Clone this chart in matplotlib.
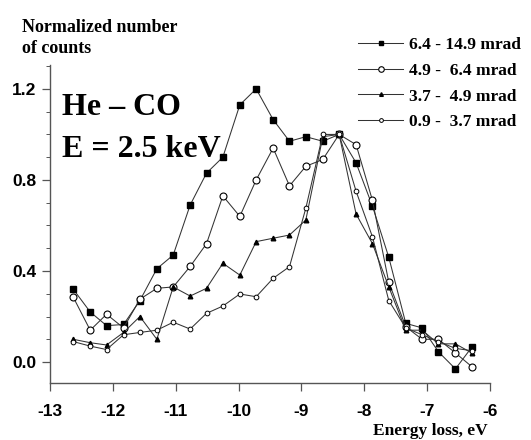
import matplotlib
matplotlib.use('Agg')
import matplotlib.pyplot as plt
from matplotlib.ticker import MultipleLocator

# Energy loss grid (eV)
energy = [-12.63, -12.36, -12.10, -11.83, -11.57, -11.30, -11.04, -10.77, -10.51,
          -10.25, -9.98, -9.72, -9.45, -9.19, -8.93, -8.66, -8.40, -8.13, -7.87,
          -7.61, -7.34, -7.08, -6.82, -6.55, -6.29]

# Normalized number of counts for each angular range
s_64_149 = [0.32, 0.22, 0.16, 0.165, 0.27, 0.41, 0.47, 0.69, 0.83, 0.90, 1.13, 1.20,
            1.065, 0.97, 0.99, 0.97, 1.00, 0.875, 0.685, 0.46, 0.17, 0.15, 0.045, -0.03, 0.065]
s_49_64 = [0.285, 0.14, 0.21, 0.15, 0.276, 0.324, 0.33, 0.42, 0.52, 0.73, 0.64, 0.80,
           0.94, 0.774, 0.86, 0.89, 1.00, 0.955, 0.71, 0.35, 0.155, 0.10, 0.10, 0.04, -0.02]
s_37_49 = [0.10, 0.085, 0.075, 0.13, 0.20, 0.10, 0.33, 0.29, 0.324, 0.434, 0.382, 0.529,
           0.544, 0.558, 0.624, 0.99, 1.00, 0.65, 0.52, 0.33, 0.14, 0.14, 0.08, 0.08, 0.04]
s_09_37 = [0.09, 0.07, 0.055, 0.12, 0.13, 0.14, 0.175, 0.145, 0.214, 0.246, 0.299, 0.287,
           0.368, 0.419, 0.676, 1.00, 1.00, 0.75, 0.55, 0.27, 0.15, 0.12, 0.09, 0.06, 0.05]

labels = ["6.4 - 14.9 mrad", "4.9 -  6.4 mrad", "3.7 -  4.9 mrad", "0.9 -  3.7 mrad"]
xticks = [-13, -12, -11, -10, -9, -8, -7, -6]
yticks = [0.0, 0.4, 0.8, 1.2]

W, H = 531, 440
fig = plt.figure(figsize=(W / 100, H / 100), dpi=100)
ax = fig.add_axes([50 / W, 1 - 383 / H, 440 / W, 318 / H])

lc = '#333333'
lw = 0.75
h1, = ax.plot(energy, s_64_149, '-', color=lc, lw=lw, marker='s', ms=4.3,
              mfc='black', mec='black', label=labels[0])
h2, = ax.plot(energy, s_49_64, '-', color=lc, lw=lw, marker='o', ms=5,
              mfc='white', mec='black', mew=0.8, label=labels[1])
h3, = ax.plot(energy, s_37_49, '-', color=lc, lw=lw, marker='^', ms=3.3,
              mfc='black', mec='black', label=labels[2])
h4, = ax.plot(energy, s_09_37, '-', color=lc, lw=lw, marker='o', ms=3.4,
              mfc='white', mec='black', mew=0.7, label=labels[3])

ax.set_xlim(-13, -6)
ax.set_ylim(-0.092, 1.305)
ax.set_xticks(xticks)
ax.set_xticklabels([f"{t:d}" for t in xticks])
ax.set_yticks(yticks)
ax.set_yticklabels([f"{t:.1f}" for t in yticks])
ax.yaxis.set_minor_locator(MultipleLocator(0.1))

for sp in ['top', 'right']:
    ax.spines[sp].set_visible(False)
for sp in ['left', 'bottom']:
    ax.spines[sp].set_color('#555555')
    ax.spines[sp].set_linewidth(1.0)

for lab in ax.get_xticklabels() + ax.get_yticklabels():
    lab.set_fontfamily('Liberation Sans')
    lab.set_fontweight('bold')
    lab.set_fontsize(12.5)
ax.tick_params(axis='both', which='major', direction='out', length=6, width=0.9,
               color='#555555')
ax.tick_params(axis='x', which='major', pad=9)
ax.tick_params(axis='y', which='major', pad=4)
ax.tick_params(axis='y', which='minor', direction='out', length=3, width=0.7,
               color='#555555')

serif = 'Liberation Serif'
fig.text(22 / W, 1 - 32 / H, "Normalized number", family=serif, weight='bold',
         size=13, ha='left', va='baseline')
fig.text(22 / W, 1 - 53 / H, "of counts", family=serif, weight='bold',
         size=13, ha='left', va='baseline')
fig.text(488 / W, 1 - 435 / H, "Energy loss, eV", family=serif, weight='bold',
         size=12.5, ha='right', va='baseline')

fig.text(62 / W, 1 - 115 / H, "He \u2013 CO", family=serif, weight='bold',
         size=23, ha='left', va='baseline')
fig.text(62 / W, 1 - 157 / H, "E = 2.5 keV", family=serif, weight='bold',
         size=23, ha='left', va='baseline')

leg = ax.legend(handles=[h1, h2, h3, h4], loc='upper left',
                bbox_to_anchor=(358 / W, 1 - 37 / H), bbox_transform=fig.transFigure,
                frameon=False, borderpad=0, borderaxespad=0, handlelength=2.6,
                handletextpad=0.35, labelspacing=0.55, markerscale=0.8,
                prop=dict(family=serif, weight='bold', size=12.5))

fig.savefig('out.png', dpi=100)
